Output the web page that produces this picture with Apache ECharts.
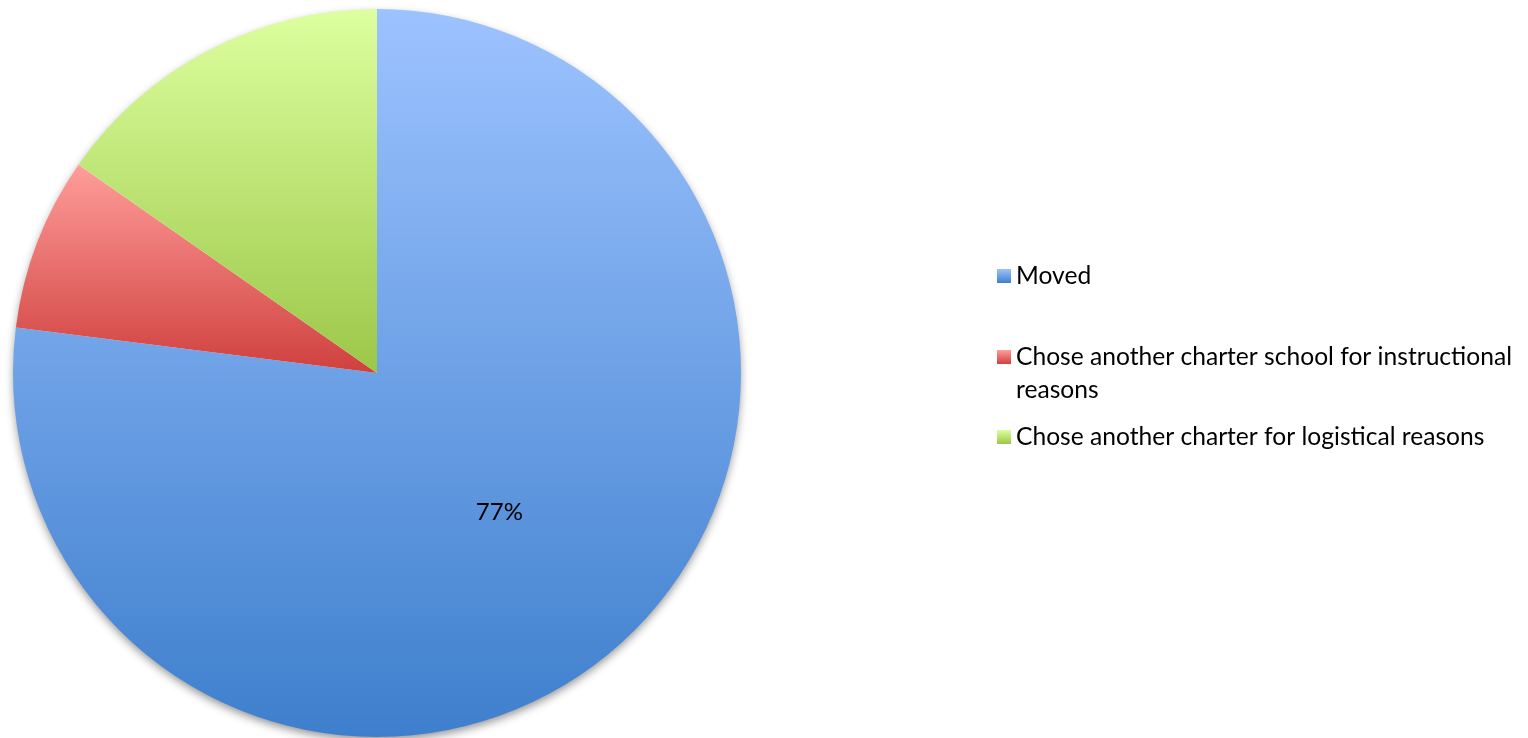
<!DOCTYPE html>
<html>
<head>
<meta charset="utf-8">
<script src="https://cdn.jsdelivr.net/npm/echarts@6/dist/echarts.min.js"></script>
<style>
  html, body { margin: 0; padding: 0; background: #ffffff; }
  #chart { width: 1528px; height: 738px; }
</style>
</head>
<body>
<div id="chart"></div>
<script>
// Reasons students left (share of departures, %)
const categories = [
  'Moved',
  'Chose another charter school for instructional reasons',
  'Chose another charter for logistical reasons'
];
const values = [77, 7.7, 15.3];
// Only the largest slice carries a value label
const showLabel = [true, false, false];
// Legend text, wrapped where it runs long
const legendText = [
  'Moved',
  'Chose another charter school for instructional\nreasons',
  'Chose another charter for logistical reasons'
];

const gradientStops = [
  ['#9dc3ff', '#3e7fcd'],
  ['#ff9d9a', '#cf403e'],
  ['#ddff9f', '#9bc748']
];

const FONT = 'Lato, "Open Sans", sans-serif';
const center = [377, 373];
const radius = 364;

function grad(i) {
  return new echarts.graphic.LinearGradient(0, 0, 0, 1, [
    { offset: 0, color: gradientStops[i][0] },
    { offset: 1, color: gradientStops[i][1] }
  ]);
}

const pieData = categories.map((name, i) => ({
  name: name,
  value: values[i],
  itemStyle: { color: grad(i) },
  label: { show: showLabel[i] }
}));

// One legend block per item; a wrapped entry gets a blank leading line so
// its marker lines up with the first line of text
const LINE = 33;
const legendCenters = [276, 357, 437];
const legends = categories.map((name, i) => {
  const wrapped = legendText[i].includes('\n');
  const text = wrapped ? '\n' + legendText[i] : legendText[i];
  const lines = text.split('\n').length;
  return {
    data: [name],
    left: 997,
    top: legendCenters[i] - (lines * LINE) / 2,
    orient: 'vertical',
    padding: 0,
    itemWidth: 14,
    itemHeight: 14,
    icon: 'rect',
    selectedMode: false,
    formatter: () => text,
    textStyle: {
      fontFamily: FONT,
      fontSize: 24.6,
      lineHeight: LINE,
      color: '#000000'
    }
  };
});

const chart = echarts.init(document.getElementById('chart'), null, { renderer: 'canvas' });
chart.setOption({
  animation: false,
  backgroundColor: '#ffffff',
  legend: legends,
  series: [
    {
      // soft drop shadow beneath the pie
      type: 'pie',
      silent: true,
      z: 1,
      center: center,
      radius: radius - 1,
      label: { show: false },
      labelLine: { show: false },
      itemStyle: {
        color: '#ffffff',
        shadowBlur: 10,
        shadowOffsetY: 4,
        shadowColor: 'rgba(0,0,0,0.45)'
      },
      data: [{ value: 1, name: '' }]
    },
    {
      type: 'pie',
      z: 2,
      center: center,
      radius: radius,
      startAngle: 90,
      clockwise: true,
      avoidLabelOverlap: false,
      itemStyle: { borderWidth: 0 },
      label: {
        position: 'inside',
        formatter: '{c}%',
        fontFamily: FONT,
        fontSize: 24,
        color: '#000000'
      },
      labelLine: { show: false },
      emphasis: { disabled: true },
      data: pieData
    }
  ]
});
</script>
</body>
</html>
